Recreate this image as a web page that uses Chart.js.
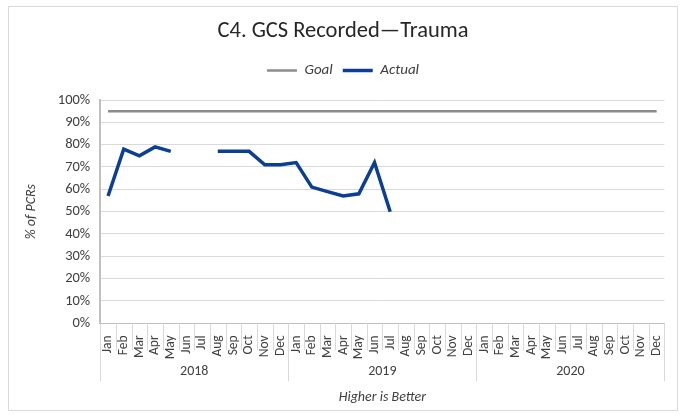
<!DOCTYPE html>
<html>
<head>
<meta charset="utf-8">
<script src="https://cdn.jsdelivr.net/npm/chart.js@4/dist/chart.umd.min.js"></script>
<style>
  html, body { margin: 0; padding: 0; background: #fff; }
  #box {
    position: absolute; left: 8px; top: 6px; width: 670px; height: 405px;
    border: 1px solid #d9d9d9; box-sizing: border-box;
  }
  #box canvas { display: block; }
</style>
</head>
<body>
<div id="box"><canvas id="gcsChart" width="668" height="403"></canvas></div>
<script>
const years = ["2018", "2019", "2020"];
const months = ["Jan", "Feb", "Mar", "Apr", "May", "Jun", "Jul", "Aug", "Sep", "Oct", "Nov", "Dec"];
const yTicks = [0, 10, 20, 30, 40, 50, 60, 70, 80, 90, 100];

const goalValues = [95, 95, 95, 95, 95, 95, 95, 95, 95, 95, 95, 95,
                    95, 95, 95, 95, 95, 95, 95, 95, 95, 95, 95, 95,
                    95, 95, 95, 95, 95, 95, 95, 95, 95, 95, 95, 95];
const actualValues = [57, 78, 75, 79, 77, null, null, 77, 77, 77, 71, 71,
                      72, 61, 59, 57, 58, 72, 50];

const labels = [];
years.forEach(y => months.forEach(m => labels.push(m)));

const FONT = "Carlito, Lato, 'Open Sans', sans-serif";

// draws month separators, year separators and year names under the axis
const yearRows = {
  id: "yearRows",
  afterDraw(chart) {
    const ctx = chart.ctx;
    const x = chart.scales.x;
    const top = chart.chartArea.bottom;
    ctx.save();
    ctx.strokeStyle = "#d9d9d9";
    ctx.lineWidth = 1;
    for (let i = 0; i <= labels.length; i++) {
      const px = Math.round(x.getPixelForValue(i - 0.5)) + 0.5;
      const len = (i % 12 === 0) ? 58 : 27;
      ctx.beginPath();
      ctx.moveTo(px, top);
      ctx.lineTo(px, top + len);
      ctx.stroke();
    }
    ctx.fillStyle = "#404040";
    ctx.font = "14px " + FONT;
    ctx.textAlign = "center";
    ctx.textBaseline = "middle";
    years.forEach((yr, k) => {
      const a = x.getPixelForValue(k * 12 - 0.5);
      const b = x.getPixelForValue(k * 12 + 11.5);
      ctx.fillText(yr, (a + b) / 2, top + 48);
    });
    ctx.restore();
  }
};

// extra room under the legend
const legendGap = {
  id: "legendGap",
  beforeInit(chart) {
    const fit = chart.legend.fit;
    chart.legend.fit = function () {
      fit.bind(chart.legend)();
      this.height += 12;
    };
  }
};

new Chart(document.getElementById("gcsChart").getContext("2d"), {
  type: "line",
  data: {
    labels: labels,
    datasets: [
      {
        label: "Goal",
        data: goalValues,
        borderColor: "#8c8c8c",
        backgroundColor: "#8c8c8c",
        borderWidth: 2.5,
        pointRadius: 0,
        pointStyle: "line",
        tension: 0
      },
      {
        label: "Actual",
        data: actualValues,
        borderColor: "#0b3f94",
        backgroundColor: "#0b3f94",
        borderWidth: 3.5,
        pointRadius: 0,
        pointStyle: "line",
        spanGaps: false,
        tension: 0
      }
    ]
  },
  options: {
    responsive: false,
    animation: false,
    layout: { padding: { top: 6, right: 10, left: 10, bottom: 4 } },
    plugins: {
      title: {
        display: true,
        text: "C4. GCS Recorded\u2014Trauma",
        color: "#262626",
        font: { family: FONT, size: 22.5, weight: "normal" },
        padding: { top: 5, bottom: 8 }
      },
      legend: {
        position: "top",
        labels: {
          usePointStyle: true,
          pointStyleWidth: 30,
          boxHeight: 3,
          color: "#404040",
          font: { family: FONT, size: 15, style: "italic" },
          padding: 10
        }
      },
      tooltip: { enabled: false }
    },
    scales: {
      x: {
        offset: true,
        grid: { display: false },
        border: { display: true, color: "#bfbfbf", width: 1 },
        ticks: {
          minRotation: 90,
          maxRotation: 90,
          autoSkip: false,
          padding: 4,
          color: "#404040",
          font: { family: FONT, size: 13.5 }
        },
        title: {
          display: true,
          text: "Higher is Better",
          color: "#404040",
          font: { family: FONT, size: 14, style: "italic" },
          padding: { top: 26, bottom: 0 }
        }
      },
      y: {
        min: 0,
        max: 100,
        afterBuildTicks(scale) {
          scale.ticks = yTicks.map(v => ({ value: v }));
        },
        grid: { color: "#d9d9d9", lineWidth: 1, drawTicks: false },
        border: { display: true, color: "#bfbfbf", width: 2 },
        ticks: {
          padding: 10,
          color: "#404040",
          font: { family: FONT, size: 14.5 },
          callback: v => v + "%"
        },
        title: {
          display: true,
          text: "% of PCRs",
          color: "#404040",
          font: { family: FONT, size: 14, style: "italic" },
          padding: { bottom: 8 }
        }
      }
    }
  },
  plugins: [yearRows, legendGap]
});
</script>
</body>
</html>
